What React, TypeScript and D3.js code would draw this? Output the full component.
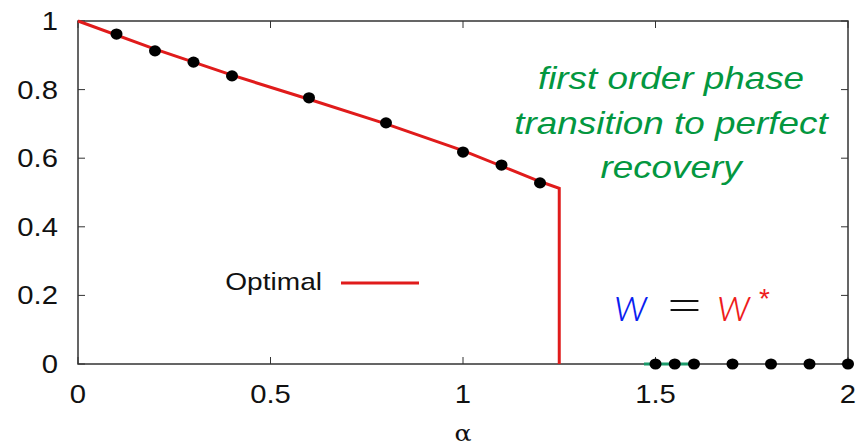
import React from "react";
import * as d3 from "d3";

const W = 868;
const H = 447;

// Optimal overlap curve: continuous branch, then a jump to zero at the transition
const optimalAlpha = [0, 0.2, 0.4, 0.6, 0.8, 1.0, 1.2, 1.25, 1.25];
const optimalValue = [1.0, 0.918, 0.842, 0.772, 0.7, 0.622, 0.532, 0.512, 0];

// Simulation points
const pointAlpha = [0.1, 0.2, 0.3, 0.4, 0.6, 0.8, 1.0, 1.1, 1.2, 1.5, 1.55, 1.6, 1.7, 1.8, 1.9, 2.0];
const pointValue = [0.962, 0.913, 0.88, 0.84, 0.776, 0.703, 0.618, 0.58, 0.528, 0, 0, 0, 0, 0, 0, 0];

// Short recovered-branch segment
const recoveredAlpha = [1.47, 1.6];
const recoveredValue = [0, 0];

const xTicks = [0, 0.5, 1, 1.5, 2];
const xTickLabels = ["0", "0.5", "1", "1.5", "2"];
const yTicks = [0, 0.2, 0.4, 0.6, 0.8, 1];
const yTickLabels = ["0", "0.2", "0.4", "0.6", "0.8", "1"];

const annotationLines = ["first order phase", "transition to perfect", "recovery"];

const SX = 1.17; // horizontal text stretch

export default function App() {
  const x = d3.scaleLinear().domain([0, 2]).range([78, 848]);
  const y = d3.scaleLinear().domain([0, 1]).range([364, 21]);

  const optimal = optimalAlpha.map((a, i) => [a, optimalValue[i]] as [number, number]);
  const points = pointAlpha.map((a, i) => [a, pointValue[i]] as [number, number]);
  const recovered = recoveredAlpha.map((a, i) => [a, recoveredValue[i]] as [number, number]);

  const line = d3
    .line<[number, number]>()
    .x((d) => x(d[0]))
    .y((d) => y(d[1]));

  const axisColor = "#333";
  const font = "'Liberation Sans', Arial, sans-serif";
  const thinFont = "Lato, 'Open Sans', 'Liberation Sans', sans-serif";
  const tickLen = 7;

  const stretched = (cx: number, cy: number) =>
    `translate(${cx},${cy}) scale(${SX},1)`;

  return (
    <svg
      width={W}
      height={H}
      style={{ position: "absolute", left: 0, top: 0, background: "#fff" }}
    >
      {/* frame */}
      <rect
        x={x(0)}
        y={y(1)}
        width={x(2) - x(0)}
        height={y(0) - y(1)}
        fill="none"
        stroke={axisColor}
        strokeWidth={1.5}
      />
      {/* x ticks (bottom and top, inward) */}
      {xTicks.map((t, i) => (
        <g key={"xt" + i}>
          <line x1={x(t)} x2={x(t)} y1={y(0)} y2={y(0) - tickLen} stroke={axisColor} strokeWidth={1} />
          <line x1={x(t)} x2={x(t)} y1={y(1)} y2={y(1) + tickLen} stroke={axisColor} strokeWidth={1} />
          <text
            transform={stretched(x(t), 403)}
            textAnchor="middle"
            fontFamily={font}
            fontSize={25}
            fill="#111"
          >
            {xTickLabels[i]}
          </text>
        </g>
      ))}
      {/* y ticks (left and right, inward) */}
      {yTicks.map((t, i) => (
        <g key={"yt" + i}>
          <line x1={x(0)} x2={x(0) + tickLen} y1={y(t)} y2={y(t)} stroke={axisColor} strokeWidth={1} />
          <line x1={x(2)} x2={x(2) - tickLen} y1={y(t)} y2={y(t)} stroke={axisColor} strokeWidth={1} />
          <text
            transform={stretched(58, y(t) + 9)}
            textAnchor="end"
            fontFamily={font}
            fontSize={25}
            fill="#111"
          >
            {yTickLabels[i]}
          </text>
        </g>
      ))}

      {/* axis title */}
      <text
        transform={`translate(463,441) scale(1.15,1)`}
        textAnchor="middle"
        fontFamily="'DejaVu Serif', serif"
        fontSize={22}
        fill="#111"
      >
        α
      </text>

      {/* recovered branch */}
      <path d={line(recovered) || ""} fill="none" stroke="#1a9a6a" strokeWidth={3} />

      {/* optimal curve */}
      <path d={line(optimal) || ""} fill="none" stroke="#e01b1b" strokeWidth={3} />

      {/* simulation points */}
      {points.map((p, i) => (
        <ellipse key={"p" + i} cx={x(p[0])} cy={y(p[1])} rx={6} ry={5.6} fill="#000" />
      ))}

      {/* legend */}
      <text
        transform={stretched(322, 290)}
        textAnchor="end"
        fontFamily={font}
        fontSize={24}
        fill="#111"
      >
        Optimal
      </text>
      <line x1={341} x2={419} y1={283} y2={283} stroke="#e01b1b" strokeWidth={3} />

      {/* annotation */}
      {annotationLines.map((s, i) => (
        <text
          key={"a" + i}
          transform={stretched(671, 89 + i * 44.5)}
          textAnchor="middle"
          fontFamily={font}
          fontStyle="italic"
          fontSize={31.5}
          fill="#03973f"
        >
          {s}
        </text>
      ))}

      {/* w = w* */}
      <text x={614} y={321} fontFamily={thinFont} fontWeight={300} fontStyle="italic" fontSize={48} fill="#0a1ef0">
        w
      </text>
      <text transform="translate(665,324) scale(1.2,1)" fontFamily={thinFont} fontWeight={300} fontSize={56} fill="#111">
        =
      </text>
      <text x={717} y={321} fontFamily={thinFont} fontWeight={300} fontStyle="italic" fontSize={48} fill="#ee1c1c">
        w
      </text>
      <text x={759} y={308} fontFamily={font} fontSize={28} fill="#ee1c1c">
        *
      </text>
    </svg>
  );
}
